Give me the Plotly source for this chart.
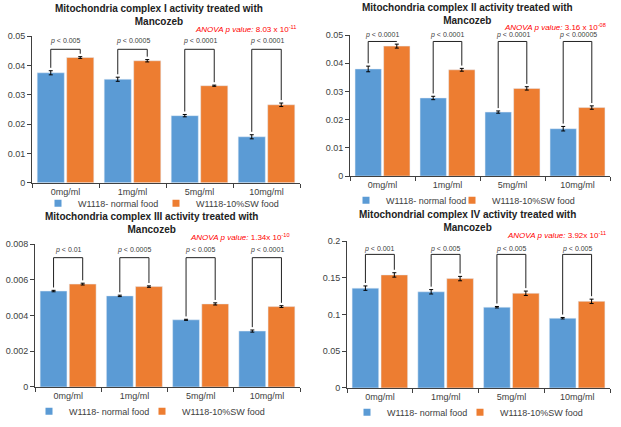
import plotly.graph_objects as go

categories = ["0mg/ml", "1mg/ml", "5mg/ml", "10mg/ml"]
series_names = ["W1118- normal food", "W1118-10%SW food"]

titles = [
    "Mitochondria complex I activity treated with<br>Mancozeb",
    "Mitochondria complex II activity treated with<br>Mancozeb",
    "Mitochondria complex III activity treated with<br>Mancozeb",
    "Mitochondrial complex IV activity treated with<br>Mancozeb",
]

c1_normal = [0.0375, 0.0353, 0.0229, 0.0157]
c1_normal_err = [0.0007, 0.0007, 0.0004, 0.0007]
c1_sw = [0.0427, 0.0416, 0.0331, 0.0266]
c1_sw_err = [0.0003, 0.0004, 0.0002, 0.0006]

c2_normal = [0.0380, 0.0277, 0.0227, 0.0168]
c2_normal_err = [0.0010, 0.0006, 0.0004, 0.0008]
c2_sw = [0.0461, 0.0377, 0.0311, 0.0243]
c2_sw_err = [0.0007, 0.0005, 0.0006, 0.0006]

c3_normal = [0.00537, 0.00510, 0.00376, 0.00313]
c3_normal_err = [0.00004, 0.00004, 0.00003, 0.00006]
c3_sw = [0.00576, 0.00562, 0.00465, 0.00450]
c3_sw_err = [0.00005, 0.00004, 0.00006, 0.00005]

c4_normal = [0.136, 0.131, 0.110, 0.095]
c4_normal_err = [0.003, 0.003, 0.001, 0.001]
c4_sw = [0.154, 0.149, 0.129, 0.118]
c4_sw_err = [0.003, 0.003, 0.003, 0.003]

p_labels = [
    ["p < 0.005", "p < 0.0005", "p < 0.0001", "p < 0.0001"],
    ["p < 0.0001", "p < 0.0001", "p < 0.0001", "p < 0.00005"],
    ["p < 0.01", "p < 0.0005", "p < 0.005", "p < 0.0001"],
    ["p < 0.001", "p < 0.005", "p < 0.005", "p < 0.005"],
]
anova_labels = [
    "<i>ANOVA p value:</i> 8.03 x 10<sup>-11</sup>",
    "<i>ANOVA p value:</i> 3.16 x 10<sup>-08</sup>",
    "<i>ANOVA p value:</i> 1.34x 10<sup>-10</sup>",
    "<i>ANOVA p value:</i> 3.92x 10<sup>-11</sup>",
]

y_max = [0.05, 0.05, 0.008, 0.2]
y_dtick = [0.01, 0.01, 0.002, 0.05]

panels = [
    (c1_normal, c1_normal_err, c1_sw, c1_sw_err),
    (c2_normal, c2_normal_err, c2_sw, c2_sw_err),
    (c3_normal, c3_normal_err, c3_sw, c3_sw_err),
    (c4_normal, c4_normal_err, c4_sw, c4_sw_err),
]

W, H = 621, 427
BLUE = "#5B9BD5"
ORANGE = "#ED7D31"
FONT = "Liberation Sans"

# pixel layout: (x_left, x_right, y_top, y_zero)
boxes = [
    (32, 300, 32, 183),
    (350, 610, 31, 176),
    (35, 300, 246, 393),
    (347, 610, 243, 394),
]
title_pos = [(159, 10), (467, 9), (151, 224), (467, 222)]
# legend text start of each entry, and row y
legend_x = [(66, 184), (374, 480), (57, 170), (375, 488)]
legend_y = [204, 201, 418, 419]
anova_pos = [(298, 25), (608, 23), (292, 239), (608, 237)]
bracket_frac = [0.91, 0.955, 0.905, 0.91]
ptext_frac = [0.965, 1.0, 0.96, 0.95]

bargap = 0.12
half = (1 - bargap) / 4

fig = go.Figure()
shapes = []
annotations = []
layout_extra = {}
legend_count = 0

for k, (nv, ne, sv, se) in enumerate(panels):
    n = "" if k == 0 else str(k + 1)
    xa, ya = "x" + n, "y" + n
    for vals, errs, color, name in ((nv, ne, BLUE, series_names[0]), (sv, se, ORANGE, series_names[1])):
        fig.add_trace(go.Bar(
            x=categories, y=vals, name=name, marker_color=color,
            error_y=dict(type="data", array=errs, color="black", thickness=1, width=2),
            xaxis=xa, yaxis=ya, showlegend=False,
        ))
    for j, (color, name) in enumerate(((BLUE, series_names[0]), (ORANGE, series_names[1]))):
        legend_count += 1
        lg = "legend" if legend_count == 1 else "legend" + str(legend_count)
        fig.add_trace(go.Scatter(
            x=[None], y=[None], mode="markers", name=name,
            marker=dict(symbol="square", size=7, color=color),
            xaxis=xa, yaxis=ya, legend=lg,
        ))
        layout_extra[lg] = dict(
            orientation="h", x=(legend_x[k][j] - 28) / W, xanchor="left",
            y=1 - legend_y[k] / H, yanchor="middle",
            font=dict(family=FONT, size=9, color="#404040"),
            bgcolor="rgba(0,0,0,0)", itemwidth=30,
        )
    xl, xr, yt, yz = boxes[k]
    ymax = y_max[k]
    layout_extra["xaxis" + n] = dict(
        domain=[xl / W, xr / W], anchor=ya, type="category",
        showline=True, linecolor="#404040", linewidth=1,
        ticks="outside", tickson="boundaries", ticklen=4, tickcolor="#404040",
        tickfont=dict(family=FONT, size=9, color="#404040"),
        showgrid=False, zeroline=False,
    )
    layout_extra["yaxis" + n] = dict(
        domain=[1 - yz / H, 1 - yt / H], anchor=xa, range=[0, ymax],
        dtick=y_dtick[k], tick0=0,
        showline=True, linecolor="#404040", linewidth=1,
        ticks="outside", ticklen=4, tickcolor="#404040",
        tickfont=dict(family=FONT, size=9, color="#404040"),
        showgrid=False, zeroline=False,
    )
    tx, ty = title_pos[k]
    annotations.append(dict(
        text="<b>" + titles[k] + "</b>", x=tx / W, y=1 - ty / H,
        xref="paper", yref="paper", xanchor="center", yanchor="middle",
        showarrow=False, font=dict(family=FONT, size=10, color="#222"),
    ))
    ax_, ay_ = anova_pos[k]
    annotations.append(dict(
        text=anova_labels[k], x=ax_ / W, y=1 - ay_ / H,
        xref="paper", yref="paper", xanchor="right", yanchor="middle",
        showarrow=False, font=dict(family=FONT, size=8, color="#FF0000"),
    ))
    top = bracket_frac[k] * ymax
    gap = 0.02 * ymax
    for i in range(len(categories)):
        xl_i, xr_i = i - half, i + half
        lb = nv[i] + ne[i] + gap
        rb = sv[i] + se[i] + gap
        line = dict(color="#222", width=1)
        shapes.append(dict(type="line", xref=xa, yref=ya, x0=xl_i, x1=xl_i, y0=lb, y1=top, line=line))
        shapes.append(dict(type="line", xref=xa, yref=ya, x0=xl_i, x1=xr_i, y0=top, y1=top, line=line))
        shapes.append(dict(type="line", xref=xa, yref=ya, x0=xr_i, x1=xr_i, y0=rb, y1=top, line=line))
        lab = p_labels[k][i].replace("p", "<i>p</i>", 1)
        annotations.append(dict(
            text=lab, x=i, y=ptext_frac[k] * ymax, xref=xa, yref=ya,
            xanchor="center", yanchor="middle", showarrow=False,
            font=dict(family=FONT, size=7, color="#404040"),
        ))

fig.update_layout(
    width=W, height=H, margin=dict(l=0, r=0, t=0, b=0),
    paper_bgcolor="white", plot_bgcolor="white",
    barmode="group", bargap=bargap, bargroupgap=0.08,
    shapes=shapes, annotations=annotations,
    **layout_extra,
)

fig.write_html("out.html")
